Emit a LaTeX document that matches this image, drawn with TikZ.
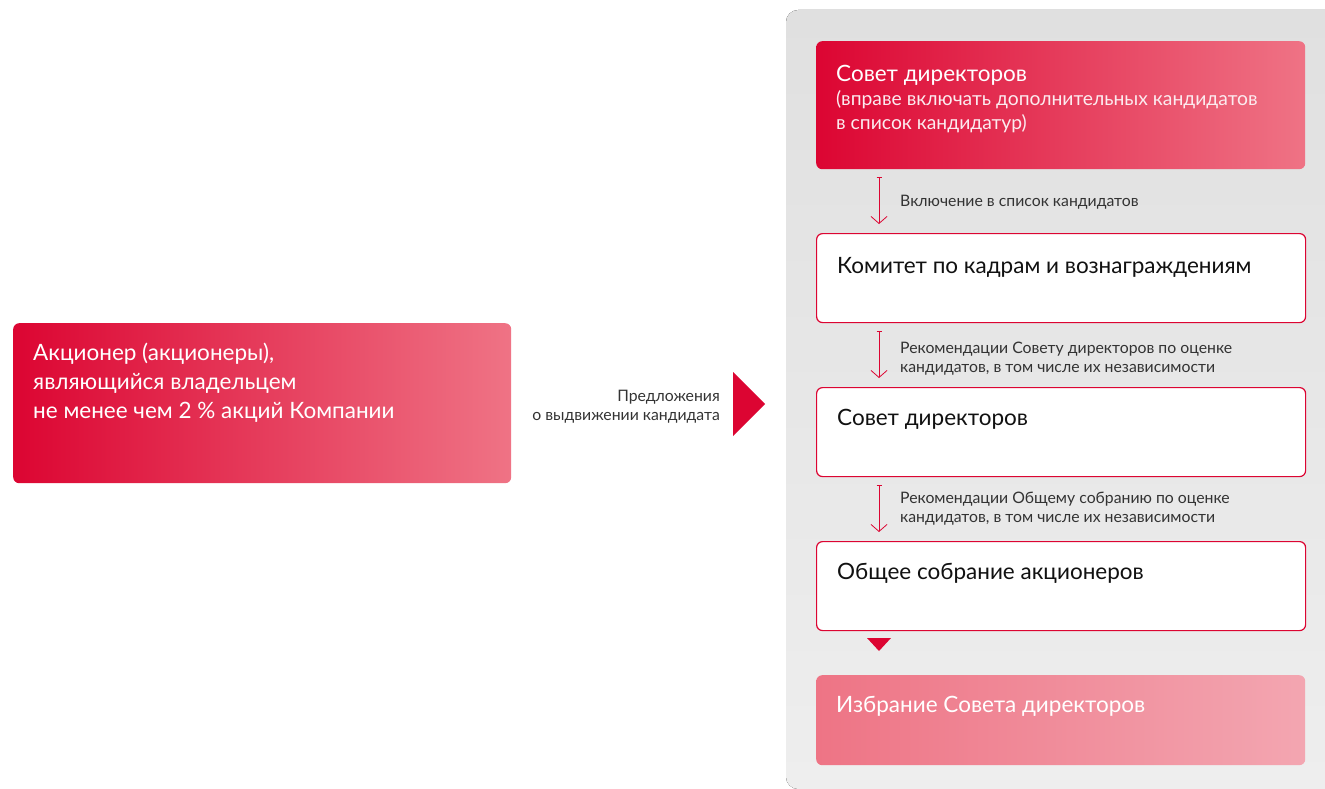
\documentclass[tikz,border=0pt]{standalone}
\usepackage{fontspec}
\setmainfont{Lato}
\usetikzlibrary{arrows.meta,calc}
\definecolor{crim}{HTML}{DC0532}
\definecolor{crimlight}{HTML}{EF7385}
\definecolor{pinkA}{HTML}{EE7485}
\definecolor{pinkB}{HTML}{F3A6B1}
\definecolor{panelTop}{HTML}{E0E0E0}
\definecolor{panelBot}{HTML}{EEEEEE}
\definecolor{txtgray}{HTML}{333333}
\definecolor{txtdark}{HTML}{111111}
\begin{document}
\begin{tikzpicture}[x=1pt,y=-1pt,
 box/.style={rectangle,rounded corners=6pt,minimum width=489pt,inner sep=0pt,anchor=north west},
 whitebox/.style={box,draw=crim,line width=1.2pt,fill=white,minimum height=89pt},
 redbox/.style={box,left color=crim,right color=crimlight},
 titletext/.style={anchor=base west,inner sep=0pt,font=\fontsize{22.5}{29}\selectfont,align=left},
 subtext/.style={anchor=base west,inner sep=0pt,font=\fontsize{19.3}{24}\selectfont,align=left,text=white!92!crim},
 smalltext/.style={anchor=base west,inner sep=0pt,font=\fontsize{15.8}{19}\selectfont,text=txtgray,align=left},
 conn/.style={draw=crim,line width=0.8pt,{Bar[width=5pt,line width=0.8pt]}-{Straight Barb[length=7pt,width=16pt,line width=0.8pt]},shorten <=8pt,shorten >=9pt}
]
\useasboundingbox (0,0) rectangle (1325,789);
% panel
\fill[top color=panelTop,bottom color=panelBot,rounded corners=12pt] (786,10) rectangle (1350,789);

% left box
\node[redbox,minimum width=498pt,minimum height=160pt] (sh) at (13,323) {};
\node[titletext,text=white] (sht) at (33,418) {Акционер (акционеры),\\являющийся владельцем\\не менее чем 2 \% акций Компании};

% proposal label and arrow
\node[smalltext,anchor=base east,align=right] (prop) at (720,420) {Предложения\\о выдвижении кандидата};
\fill[crim] (733,372) -- (765,404) -- (733,436) -- cycle;

% right column
\node[redbox,minimum height=128pt] (b1) at (816,41) {};
\node[titletext,text=white] (b1t) at (836,82) {Совет директоров};
\node[subtext] (b1s) at (836,130) {(вправе включать дополнительных кандидатов\\в список кандидатур)};

\node[whitebox] (b2) at (816,233) {};
\node[titletext,text=txtdark] (b2t) at (837,273) {Комитет по кадрам и вознаграждениям};

\node[whitebox] (b3) at (816,387) {};
\node[titletext,text=txtdark] (b3t) at (837,425) {Совет директоров};

\node[whitebox] (b4) at (816,541) {};
\node[titletext,text=txtdark] (b4t) at (837,579) {Общее собрание акционеров};

\node[box,left color=pinkA,right color=pinkB,minimum height=90pt] (b5) at (816,675) {};
\node[titletext,text=white] (b5t) at (836,712) {Избрание Совета директоров};

% connectors
\draw[conn] ([xshift=63pt]b1.south west) -- ([xshift=63pt]b2.north west);
\node[smalltext] (l1) at (900,206) {Включение в список кандидатов};
\draw[conn] ([xshift=63pt]b2.south west) -- ([xshift=63pt]b3.north west);
\node[smalltext] (l2) at (900,372) {Рекомендации Совету директоров по оценке\\кандидатов, в том числе их независимости};
\draw[conn] ([xshift=63pt]b3.south west) -- ([xshift=63pt]b4.north west);
\node[smalltext] (l3) at (900,522) {Рекомендации Общему собранию по оценке\\кандидатов, в том числе их независимости};

\fill[crim] (867,638) -- (891,638) -- (879,651) -- cycle;
\end{tikzpicture}
\end{document}
